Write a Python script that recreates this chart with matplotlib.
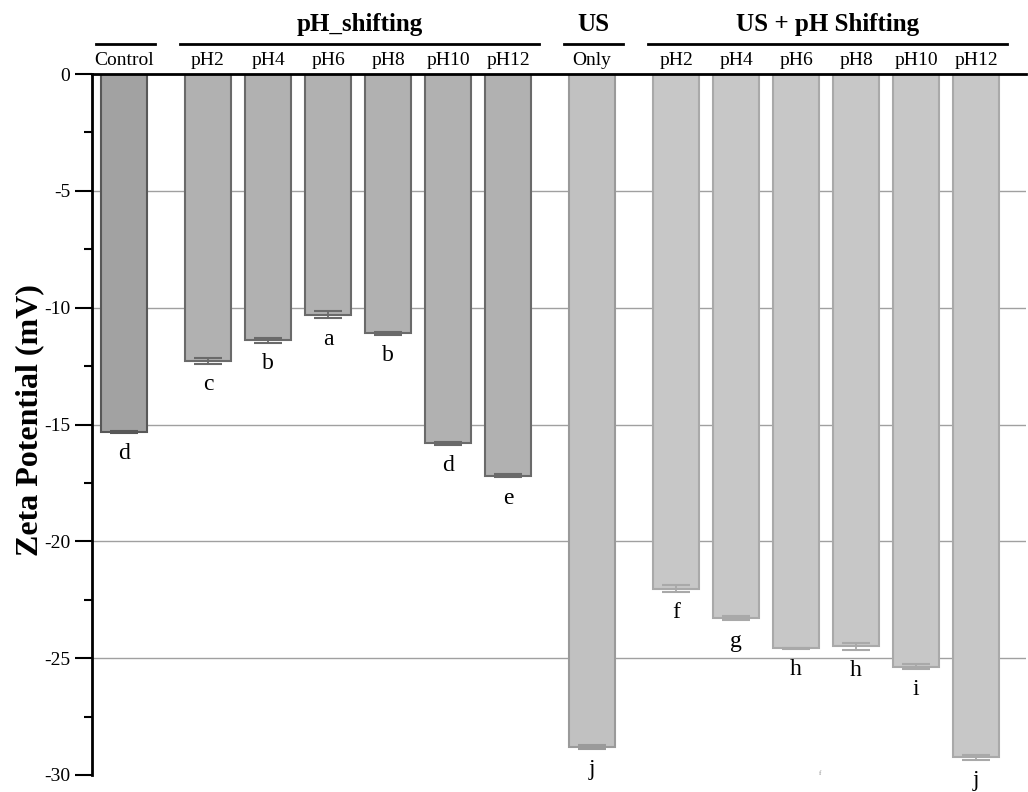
import matplotlib
matplotlib.use("Agg")
import matplotlib.pyplot as plt
from matplotlib.transforms import blended_transform_factory
import numpy as np

plt.rcParams['font.family'] = ['Liberation Serif', 'DejaVu Serif']

# ---- data ----
categories = ["Control", "pH2", "pH4", "pH6", "pH8", "pH10", "pH12",
              "Only", "pH2", "pH4", "pH6", "pH8", "pH10", "pH12"]
values = [-15.32, -12.28, -11.40, -10.30, -11.10, -15.80, -17.19,
          -28.80, -22.02, -23.28, -24.57, -24.50, -25.36, -29.25]
errors = [0.04, 0.12, 0.10, 0.15, 0.07, 0.07, 0.07,
          0.07, 0.15, 0.10, 0.02, 0.15, 0.10, 0.10]
letters = ["d", "c", "b", "a", "b", "d", "e", "j", "f", "g", "h", "h", "i", "j"]
group_of_bar = [0, 1, 1, 1, 1, 1, 1, 2, 3, 3, 3, 3, 3, 3]
group_names = ["", "pH_shifting", "US", "US + pH Shifting"]
yticks = [0, -5, -10, -15, -20, -25, -30]
gridlines = [-5, -10, -15, -20, -25]

# ---- styles ----
fills = ["#a2a2a2", "#b1b1b1", "#c1c1c1", "#c7c7c7"]
edges = ["#585858", "#6a6a6a", "#9a9a9a", "#a9a9a9"]
x = np.array([0, 1.4, 2.4, 3.4, 4.4, 5.4, 6.4, 7.8, 9.2, 10.2, 11.2, 12.2, 13.2, 14.2])

fig = plt.figure(figsize=(10.28, 7.92), dpi=100)
ax = fig.add_axes([0.0895, 0.0215, 0.9085, 0.885])

for gy in gridlines:
    ax.axhline(gy, color='#a0a0a0', linewidth=1, zorder=0)

for i in range(len(values)):
    g = group_of_bar[i]
    ax.bar(x[i], values[i], width=0.77, color=fills[g], edgecolor=edges[g],
           linewidth=1.5, zorder=2)
    ax.errorbar(x[i], values[i], yerr=errors[i], fmt='none', ecolor=edges[g],
                elinewidth=1.3, capsize=10, capthick=1.5, zorder=3)
    ax.annotate(letters[i], (x[i], values[i] - errors[i]), xytext=(0, -15),
                textcoords='offset points', ha='center', va='center',
                fontsize=17, zorder=4)

ax.set_xlim(-0.533, 15.03)
ax.set_ylim(-30, 0)
ax.set_yticks(yticks)
ax.set_yticklabels([str(t) for t in yticks], fontsize=14)
ax.set_yticks(np.arange(-27.5, 0, 5), minor=True)
ax.tick_params(axis='y', which='major', length=12, width=1.5, direction='out')
ax.tick_params(axis='y', which='minor', length=6, width=1.5, direction='out')
ax.set_xticks([])
for s in ['right', 'bottom']:
    ax.spines[s].set_visible(False)
ax.spines['left'].set_linewidth(2)
ax.spines['top'].set_linewidth(2)

ax.set_ylabel("Zeta Potential (mV)", fontsize=23, fontweight='bold')
ax.yaxis.set_label_coords(-0.051, 0.506)

trans = blended_transform_factory(ax.transData, ax.transAxes)
for i, c in enumerate(categories):
    ax.text(x[i], 1.007, c, transform=trans, ha='center', va='bottom',
            fontsize=14)

for g in range(4):
    idx = [i for i in range(len(values)) if group_of_bar[i] == g]
    x0, x1 = x[idx[0]] - 0.47, x[idx[-1]] + 0.52
    ax.plot([x0, x1], [1.043, 1.043], color='black', lw=2, transform=trans,
            clip_on=False)
    if group_names[g]:
        ax.text((x0 + x1) / 2, 1.055, group_names[g], transform=trans,
                ha='center', va='bottom', fontsize=18, fontweight='bold')

# small stray mark in the original
ax.text(11.6, -29.95, "f", fontsize=5, color='#888888', ha='center', va='center')

fig.savefig("out.png", dpi=100)
